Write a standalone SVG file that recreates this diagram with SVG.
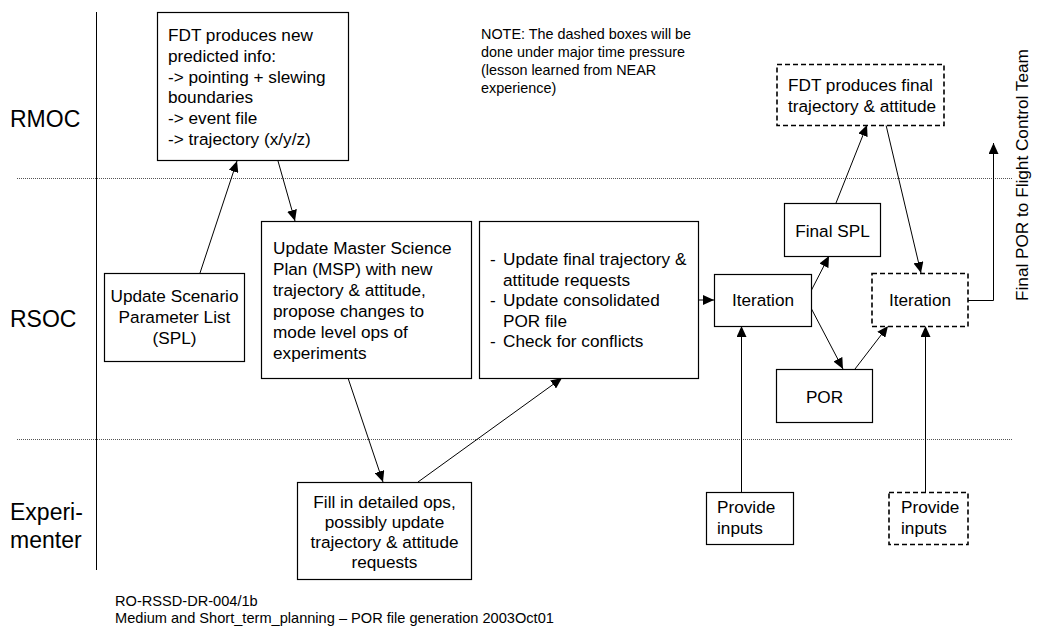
<svg xmlns="http://www.w3.org/2000/svg" width="1043" height="631" viewBox="0 0 1043 631">
  <style>
    text { font-family: "Liberation Sans", Arial, sans-serif; fill: #000; }
    .body { font-size: 17.2px; }
    .lane { font-size: 23px; }
    .note { font-size: 14.4px; }
    .foot { font-size: 14.6px; }
    .mid { text-anchor: middle; }
    .box { fill: #fff; stroke: #000; stroke-width: 1.2; }
    .dbox { fill: #fff; stroke: #000; stroke-width: 1.6; stroke-dasharray: 5 3; }
    .sep { stroke: #555; stroke-width: 1; stroke-dasharray: 1 1; fill: none; }
    .conn path { fill: none; stroke: #000; stroke-width: 1; }
    .arr { marker-end: url(#head); }
  </style>
  <defs>
    <marker id="head" markerUnits="userSpaceOnUse" markerWidth="11" markerHeight="10" refX="11" refY="5" orient="auto">
      <path d="M0,0 L11,5 L0,10 z" fill="#000"/>
    </marker>
  </defs>

  <rect width="1043" height="631" fill="#fff"/>

  <!-- swimlanes -->
  <g id="lanes">
    <line x1="96.5" y1="12" x2="96.5" y2="570" stroke="#000" stroke-width="1"/>
    <line class="sep" x1="17" y1="178.5" x2="1012" y2="178.5"/>
    <line class="sep" x1="17" y1="439.5" x2="1012" y2="439.5"/>
    <text class="lane" x="10" y="127">RMOC</text>
    <text class="lane" x="10" y="327">RSOC</text>
    <text class="lane" x="10" y="520">Experi-</text>
    <text class="lane" x="10" y="548">menter</text>
  </g>

  <!-- connectors -->
  <g id="connectors" class="conn">
    <path class="arr" d="M200,273 L237,161"/>
    <path class="arr" d="M278,161 L295,221"/>
    <path class="arr" d="M348,378 L383,482"/>
    <path class="arr" d="M418,482 L562,378"/>
    <path class="arr" d="M698,300 L714,300"/>
    <path class="arr" d="M811,291 L829,256"/>
    <path class="arr" d="M811,308 L843,369"/>
    <path class="arr" d="M855,369 L888,326"/>
    <path class="arr" d="M836,203 L867,125"/>
    <path class="arr" d="M886,125 L921,273"/>
    <path class="arr" d="M741.5,492 L741.5,326"/>
    <path class="arr" d="M925.5,492 L925.5,326"/>
    <path class="arr" d="M968,300.5 L993.5,300.5 L993.5,143"/>
  </g>

  <g id="fdt-predicted">
    <rect class="box" x="157.5" y="12.5" width="191" height="148"/>
    <text class="body" x="168" y="41">FDT produces new</text>
    <text class="body" x="168" y="62">predicted info:</text>
    <text class="body" x="168" y="83">-&gt; pointing + slewing</text>
    <text class="body" x="168" y="103">boundaries</text>
    <text class="body" x="168" y="124">-&gt; event file</text>
    <text class="body" x="168" y="145">-&gt; trajectory (x/y/z)</text>
  </g>

  <g id="update-spl">
    <rect class="box" x="104.5" y="273.5" width="140" height="88"/>
    <text class="body mid" x="174.5" y="302">Update Scenario</text>
    <text class="body mid" x="174.5" y="323">Parameter List</text>
    <text class="body mid" x="174.5" y="344">(SPL)</text>
  </g>

  <g id="update-msp">
    <rect class="box" x="261.5" y="221.5" width="210" height="157"/>
    <text class="body" x="273" y="254">Update Master Science</text>
    <text class="body" x="273" y="275">Plan (MSP) with new</text>
    <text class="body" x="273" y="296">trajectory &amp; attitude,</text>
    <text class="body" x="273" y="317">propose changes to</text>
    <text class="body" x="273" y="338">mode level ops of</text>
    <text class="body" x="273" y="359">experiments</text>
  </g>

  <g id="consolidate">
    <rect class="box" x="479.5" y="221.5" width="219" height="157"/>
    <text class="body" x="490" y="265">-</text>
    <text class="body" x="503" y="265">Update final trajectory &amp;</text>
    <text class="body" x="503" y="286">attitude requests</text>
    <text class="body" x="490" y="306">-</text>
    <text class="body" x="503" y="306">Update consolidated</text>
    <text class="body" x="503" y="327">POR file</text>
    <text class="body" x="490" y="347">-</text>
    <text class="body" x="503" y="347">Check for conflicts</text>
  </g>

  <g id="fill-ops">
    <rect class="box" x="297.5" y="482.5" width="174" height="97"/>
    <text class="body mid" x="384.5" y="508">Fill in detailed ops,</text>
    <text class="body mid" x="384.5" y="528">possibly update</text>
    <text class="body mid" x="384.5" y="548">trajectory &amp; attitude</text>
    <text class="body mid" x="384.5" y="568">requests</text>
  </g>

  <g id="iteration">
    <rect class="box" x="714.5" y="274.5" width="97" height="52"/>
    <text class="body mid" x="763" y="306">Iteration</text>
  </g>

  <g id="final-spl">
    <rect class="box" x="784.5" y="203.5" width="96" height="53"/>
    <text class="body mid" x="832.5" y="237">Final SPL</text>
  </g>

  <g id="por">
    <rect class="box" x="776.5" y="369.5" width="96" height="53"/>
    <text class="body mid" x="824.5" y="403">POR</text>
  </g>

  <g id="iteration-final">
    <rect class="dbox" x="872" y="273.5" width="96" height="53"/>
    <text class="body mid" x="920" y="306">Iteration</text>
  </g>

  <g id="fdt-final">
    <rect class="dbox" x="777" y="64.5" width="167" height="61"/>
    <text class="body" x="788" y="91">FDT produces final</text>
    <text class="body" x="788" y="112">trajectory &amp; attitude</text>
  </g>

  <g id="inputs">
    <rect class="box" x="706.5" y="492.5" width="87" height="52"/>
    <text class="body" x="717" y="513">Provide</text>
    <text class="body" x="717" y="534">inputs</text>
  </g>

  <g id="inputs-final">
    <rect class="dbox" x="889" y="492.5" width="79" height="52"/>
    <text class="body" x="901" y="513">Provide</text>
    <text class="body" x="901" y="534">inputs</text>
  </g>

  <g id="note">
    <text class="note" x="481" y="39">NOTE: The dashed boxes will be</text>
    <text class="note" x="481" y="57">done under major time pressure</text>
    <text class="note" x="481" y="75">(lesson learned from NEAR</text>
    <text class="note" x="481" y="93">experience)</text>
  </g>

  <g id="handover">
    <text class="body" transform="translate(1028,301) rotate(-90)" x="0" y="0">Final POR to Flight Control Team</text>
  </g>

  <g id="footer">
    <text class="foot" x="115" y="606">RO-RSSD-DR-004/1b</text>
    <text class="foot" x="115" y="623">Medium and Short_term_planning – POR file generation 2003Oct01</text>
  </g>
</svg>
